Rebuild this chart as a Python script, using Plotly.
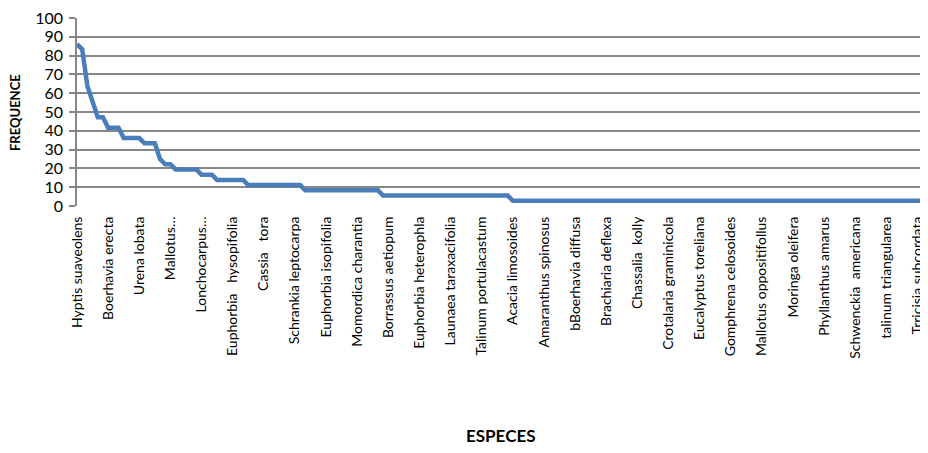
import plotly.graph_objects as go

# Tick labels (every 6th species shown on the axis, as in the source chart)
species_ticks = [
    "Hyptis suaveolens", "Boerhavia erecta", "Urena lobata", "Mallotus…",
    "Lonchocarpus…", "Euphorbia\u00a0\u00a0 hysopifolia", "Cassia\u00a0\u00a0 tora",
    "Schrankia leptocarpa", "Euphorbia isopifolia", "Momordica charantia",
    "Borrassus aetiopum", "Euphorbia heterophla", "Launaea taraxacifolia",
    "Talinum portulacastum", "Acacia limosoides", "Amaranthus spinosus",
    "bBoerhavia diffusa", "Brachiaria deflexa", "Chassalia\u00a0 kolly",
    "Crotalaria graminicola", "Eucalyptus toreliana", "Gomphrena celosoides",
    "Mallotus oppositifollus", "Moringa oleifera", "Phyllanthus amarus",
    "Schwenckia\u00a0 americana", "talinum triangularea", "Trricisia subcordata",
]

# Frequency (%) of each species, in rank order
frequence = [
    86.11, 83.33, 63.89, 55.56, 47.22, 47.22, 41.67, 41.67, 41.67, 36.11,
    36.11, 36.11, 36.11, 33.33, 33.33, 33.33, 25.00, 22.22, 22.22, 19.44,
    19.44, 19.44, 19.44, 19.44, 16.67, 16.67, 16.67, 13.89, 13.89, 13.89,
    13.89, 13.89, 13.89, 11.11, 11.11, 11.11, 11.11, 11.11, 11.11, 11.11,
    11.11, 11.11, 11.11, 11.11, 8.33, 8.33, 8.33, 8.33, 8.33, 8.33,
    8.33, 8.33, 8.33, 8.33, 8.33, 8.33, 8.33, 8.33, 8.33, 5.56,
    5.56, 5.56, 5.56, 5.56, 5.56, 5.56, 5.56, 5.56, 5.56, 5.56,
    5.56, 5.56, 5.56, 5.56, 5.56, 5.56, 5.56, 5.56, 5.56, 5.56,
    5.56, 5.56, 5.56, 5.56, 2.78, 2.78, 2.78, 2.78, 2.78, 2.78,
    2.78, 2.78, 2.78, 2.78, 2.78, 2.78, 2.78, 2.78, 2.78, 2.78,
    2.78, 2.78, 2.78, 2.78, 2.78, 2.78, 2.78, 2.78, 2.78, 2.78,
    2.78, 2.78, 2.78, 2.78, 2.78, 2.78, 2.78, 2.78, 2.78, 2.78,
    2.78, 2.78, 2.78, 2.78, 2.78, 2.78, 2.78, 2.78, 2.78, 2.78,
    2.78, 2.78, 2.78, 2.78, 2.78, 2.78, 2.78, 2.78, 2.78, 2.78,
    2.78, 2.78, 2.78, 2.78, 2.78, 2.78, 2.78, 2.78, 2.78, 2.78,
    2.78, 2.78, 2.78, 2.78, 2.78, 2.78, 2.78, 2.78, 2.78, 2.78,
    2.78, 2.78, 2.78, 2.78, 2.78,
]

y_ticks = [0, 10, 20, 30, 40, 50, 60, 70, 80, 90, 100]

rank = list(range(len(frequence)))
tick_step = 6
tickvals = rank[::tick_step][:len(species_ticks)]

GRID = "#878787"
FONT = "Lato"

# The page body adds an 8px margin, so figure coords = page coords - 8
W, H = 920, 445
L, T, B_PLOT = 69, 6, 198
PW, PH = W - L, B_PLOT - T

fig = go.Figure(
    go.Scatter(
        x=rank, y=frequence, mode="lines",
        line=dict(color="#4a7ebb", width=4.5, shape="linear"),
        hoverinfo="x+y", showlegend=False,
    )
)

fig.update_layout(
    width=W, height=H,
    margin=dict(l=L, r=0, t=T, b=H - B_PLOT),
    paper_bgcolor="white", plot_bgcolor="white",
    font=dict(family=FONT, color="#000000"),
    xaxis=dict(
        range=[0, len(frequence) - 1],
        tickmode="array", tickvals=tickvals, ticktext=species_ticks,
        tickangle=-90, tickfont=dict(size=14, family=FONT, color="#000000"),
        showgrid=False, zeroline=False, showline=False,
        ticks="outside", ticklen=4, tickcolor="rgba(0,0,0,0)",
    ),
    yaxis=dict(
        range=[0, 100], tickmode="array", tickvals=y_ticks,
        tickfont=dict(size=16, family=FONT, color="#000000"),
        ticklabeloverflow="allow",
        showgrid=True, gridcolor=GRID, gridwidth=1.5,
        zeroline=False, showline=True, linecolor=GRID, linewidth=1.5,
        ticks="outside", ticklen=6, tickcolor=GRID, tickwidth=1.5,
        ticklabelstandoff=3,
    ),
    annotations=[
        dict(text="<b>FREQUENCE</b>", xref="paper", yref="paper",
             x=(7 - L) / PW, y=(B_PLOT - 102) / PH, textangle=-90,
             showarrow=False, xanchor="center", yanchor="middle",
             borderpad=0,
             font=dict(size=13, family=FONT, color="#000000")),
        dict(text="<b>ESPECES</b>", xref="paper", yref="paper",
             x=(492 - L) / PW, y=(B_PLOT - 432) / PH,
             showarrow=False, xanchor="center", yanchor="middle",
             font=dict(size=17, family=FONT, color="#000000")),
    ],
)

fig.write_html("out.html")
